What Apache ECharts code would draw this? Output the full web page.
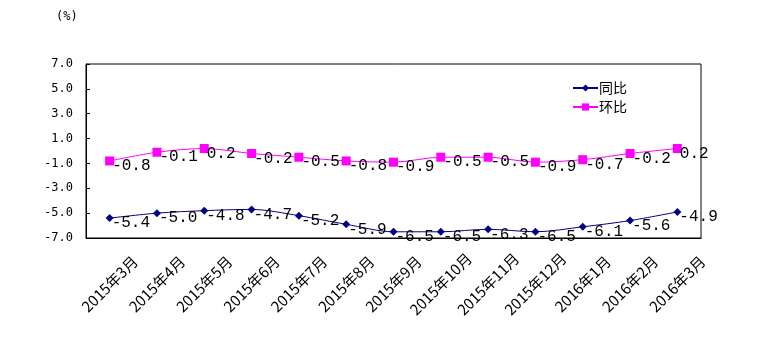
<!DOCTYPE html>
<html><head><meta charset="utf-8">
<script src="https://cdn.jsdelivr.net/npm/echarts@6/dist/echarts.min.js"></script>
<style>html,body{margin:0;padding:0;background:#fff}#c{width:774px;height:348px}</style>
</head><body><div id="c"></div>
<script>
const categories = ['2015年3月','2015年4月','2015年5月','2015年6月','2015年7月','2015年8月','2015年9月','2015年10月','2015年11月','2015年12月','2016年1月','2016年2月','2016年3月'];
const yoy = [-5.4,-5.0,-4.8,-4.7,-5.2,-5.9,-6.5,-6.5,-6.3,-6.5,-6.1,-5.6,-4.9];
const mom = [-0.8,-0.1,0.2,-0.2,-0.5,-0.8,-0.9,-0.5,-0.5,-0.9,-0.7,-0.2,0.2];
const yTicks = {min:-7, max:7, interval:2};
const unitLabel = '(%)';

const chart = echarts.init(document.getElementById('c'), null, {renderer:'canvas'});
const labelStyle = {show:true, position:'right', distance:-2, offset:[0,5], color:'#000', fontFamily:'Liberation Mono', fontSize:16,
  formatter: p => p.value.toFixed(1)};
chart.setOption({
  animation:false,
  title:{text:unitLabel, left:51, top:6, textStyle:{fontFamily:'DejaVu Sans Mono', fontSize:12, fontWeight:'normal', color:'#000'}},
  grid:{left:86, right:73, top:64, bottom:110, show:true, borderColor:'#000', borderWidth:1, backgroundColor:'transparent'},
  legend:{orient:'vertical', left:567, top:76, itemWidth:25, itemHeight:9, itemGap:5,
    textStyle:{fontFamily:'Noto Sans CJK SC', fontSize:14, color:'#000', padding:[0,0,0,-4]},
    data:['同比','环比']},
  xAxis:{type:'category', data:categories, boundaryGap:true,
    axisLine:{onZero:false, lineStyle:{color:'#000'}}, axisTick:{show:false},
    axisLabel:{interval:0, rotate:45, align:'center', verticalAlign:'middle', margin:46,
      fontFamily:'Noto Sans CJK SC', fontSize:15, color:'#000'}},
  yAxis:{type:'value', min:yTicks.min, max:yTicks.max, interval:yTicks.interval,
    splitLine:{show:false}, axisLine:{show:true, lineStyle:{color:'#000'}},
    axisTick:{show:true, inside:true, length:4, lineStyle:{color:'#000'}},
    axisLabel:{margin:13, fontFamily:'DejaVu Sans Mono', fontSize:12, color:'#000', formatter:v=>v.toFixed(1)}},
  series:[
    {name:'同比', type:'line', data:yoy, smooth:0.3, symbol:'diamond', symbolSize:8,
      lineStyle:{color:'#000080', width:1}, itemStyle:{color:'#000080'}, label:labelStyle},
    {name:'环比', type:'line', data:mom, smooth:0.3, symbol:'rect', symbolSize:9,
      lineStyle:{color:'#FF00FF', width:1}, itemStyle:{color:'#FF00FF'}, label:labelStyle}
  ]
});
</script></body></html>
